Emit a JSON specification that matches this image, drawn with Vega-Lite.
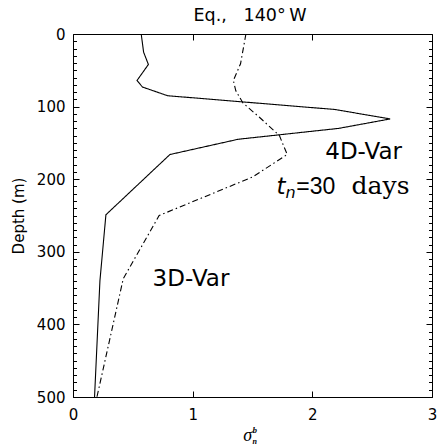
{
  "$schema": "https://vega.github.io/schema/vega-lite/v6.json",
  "width": 359,
  "height": 363,
  "autosize": {"type": "none"},
  "padding": {"left": 73, "top": 34, "right": 6, "bottom": 48},
  "config": {
    "view": {"stroke": "#000", "strokeWidth": 1},
    "axis": {
      "domain": false,
      "grid": false,
      "tickColor": "#000",
      "tickWidth": 1,
      "labelColor": "#000",
      "labelFont": "DejaVu Sans",
      "labelFontSize": 15,
      "labelFlush": false,
      "titleColor": "#000"
    },
    "text": {"font": "DejaVu Sans", "color": "#000"}
  },
  "resolve": {"axis": {"x": "independent", "y": "independent"}},
  "layer": [
    {
      "data": {
        "values": [
          {"run": "4D-Var", "depth": 0, "sigma": 0.57},
          {"run": "4D-Var", "depth": 25, "sigma": 0.59},
          {"run": "4D-Var", "depth": 42, "sigma": 0.63},
          {"run": "4D-Var", "depth": 64, "sigma": 0.535},
          {"run": "4D-Var", "depth": 73, "sigma": 0.58},
          {"run": "4D-Var", "depth": 85, "sigma": 0.79},
          {"run": "4D-Var", "depth": 104, "sigma": 2.19},
          {"run": "4D-Var", "depth": 117, "sigma": 2.65},
          {"run": "4D-Var", "depth": 130, "sigma": 2.22},
          {"run": "4D-Var", "depth": 145, "sigma": 1.38},
          {"run": "4D-Var", "depth": 166, "sigma": 0.81},
          {"run": "4D-Var", "depth": 249, "sigma": 0.275},
          {"run": "4D-Var", "depth": 340, "sigma": 0.225},
          {"run": "4D-Var", "depth": 500, "sigma": 0.18},
          {"run": "3D-Var", "depth": 0, "sigma": 1.445},
          {"run": "3D-Var", "depth": 41, "sigma": 1.4},
          {"run": "3D-Var", "depth": 64, "sigma": 1.34},
          {"run": "3D-Var", "depth": 78, "sigma": 1.36},
          {"run": "3D-Var", "depth": 95, "sigma": 1.42},
          {"run": "3D-Var", "depth": 115, "sigma": 1.56},
          {"run": "3D-Var", "depth": 140, "sigma": 1.725},
          {"run": "3D-Var", "depth": 166, "sigma": 1.79},
          {"run": "3D-Var", "depth": 197, "sigma": 1.5},
          {"run": "3D-Var", "depth": 250, "sigma": 0.72},
          {"run": "3D-Var", "depth": 337, "sigma": 0.42},
          {"run": "3D-Var", "depth": 500, "sigma": 0.2}
        ]
      },
      "mark": {"type": "line", "color": "#000", "strokeWidth": 1.1},
      "encoding": {
        "x": {
          "field": "sigma",
          "type": "quantitative",
          "scale": {"domain": [0, 3], "nice": false},
          "axis": {"orient": "bottom", "values": [0, 1, 2, 3], "tickSize": -6, "labelPadding": 16, "title": null}
        },
        "y": {
          "field": "depth",
          "type": "quantitative",
          "scale": {"domain": [0, 500], "reverse": true, "nice": false},
          "axis": {
            "orient": "left",
            "values": [0, 100, 200, 300, 400, 500],
            "tickSize": -6,
            "labelPadding": 14,
            "title": "Depth (m)",
            "titleFont": "DejaVu Sans",
            "titleFontSize": 15,
            "titleFontWeight": "normal",
            "titlePadding": 10
          }
        },
        "strokeDash": {
          "field": "run",
          "type": "nominal",
          "scale": {"domain": ["4D-Var", "3D-Var"], "range": [[1, 0], [6, 3, 1.5, 3]]},
          "legend": null
        },
        "order": {"field": "depth", "type": "quantitative"}
      }
    },
    {
      "data": {"values": [{}]},
      "mark": {"type": "text", "align": "center", "baseline": "alphabetic", "fontSize": 17.5, "dy": -13},
      "encoding": {
        "x": {"datum": 1.479, "type": "quantitative", "axis": null},
        "y": {"datum": 0, "type": "quantitative", "axis": null},
        "text": {"value": "Eq.,\u00a0\u00a0\u00a0140°\u2009W"}
      }
    },
    {
      "data": {"values": [{}]},
      "mark": {"type": "text", "align": "center", "baseline": "alphabetic", "fontSize": 23},
      "encoding": {
        "x": {"datum": 2.429, "type": "quantitative", "axis": {"orient": "top", "values": [1, 2], "tickSize": -6, "labels": false, "title": null}},
        "y": {"datum": 172, "type": "quantitative", "axis": {"orient": "right", "values": [0, 100, 200, 300, 400, 500], "tickSize": -6, "labels": false, "title": null}},
        "text": {"value": "4D-Var"}
      }
    },
    {
      "data": {"values": [{}]},
      "mark": {"type": "text", "align": "center", "baseline": "alphabetic", "fontSize": 23},
      "encoding": {
        "x": {"datum": 0.986, "type": "quantitative", "axis": null},
        "y": {"datum": 347, "type": "quantitative", "axis": {"orient": "left", "values": [0,10,20,30,40,50,60,70,80,90,100,110,120,130,140,150,160,170,180,190,200,210,220,230,240,250,260,270,280,290,300,310,320,330,340,350,360,370,380,390,400,410,420,430,440,450,460,470,480,490,500], "tickSize": -3.5, "labels": false, "title": null}},
        "text": {"value": "3D-Var"}
      }
    },
    {
      "data": {"values": [{}]},
      "mark": {"type": "text", "align": "left", "baseline": "alphabetic", "fontSize": 23, "fontStyle": "italic"},
      "encoding": {
        "x": {"datum": 1.7, "type": "quantitative", "axis": null},
        "y": {"datum": 221, "type": "quantitative", "axis": {"orient": "right", "values": [0,10,20,30,40,50,60,70,80,90,100,110,120,130,140,150,160,170,180,190,200,210,220,230,240,250,260,270,280,290,300,310,320,330,340,350,360,370,380,390,400,410,420,430,440,450,460,470,480,490,500], "tickSize": -3.5, "labels": false, "title": null}},
        "text": {"value": "t"}
      }
    },
    {
      "data": {"values": [{}]},
      "mark": {"type": "text", "align": "left", "baseline": "alphabetic", "fontSize": 16, "fontStyle": "italic"},
      "encoding": {
        "x": {"datum": 1.775, "type": "quantitative", "axis": null},
        "y": {"datum": 226, "type": "quantitative", "axis": null},
        "text": {"value": "n"}
      }
    },
    {
      "data": {"values": [{}]},
      "mark": {"type": "text", "align": "center", "baseline": "alphabetic", "fontSize": 23, "font": "Liberation Sans"},
      "encoding": {
        "x": {"datum": 2.029, "type": "quantitative", "axis": null},
        "y": {"datum": 221, "type": "quantitative", "axis": null},
        "text": {"value": "=30"}
      }
    },
    {
      "data": {"values": [{}]},
      "mark": {"type": "text", "align": "center", "baseline": "alphabetic", "fontSize": 25, "font": "DejaVu Serif"},
      "encoding": {
        "x": {"datum": 2.57, "type": "quantitative", "axis": null},
        "y": {"datum": 221, "type": "quantitative", "axis": null},
        "text": {"value": "days"}
      }
    },
    {
      "data": {"values": [{}]},
      "mark": {"type": "text", "align": "center", "baseline": "alphabetic", "fontSize": 18, "font": "Liberation Serif", "fontStyle": "italic", "dy": 44},
      "encoding": {
        "x": {"datum": 1.46, "type": "quantitative", "axis": null},
        "y": {"datum": 500, "type": "quantitative", "axis": null},
        "text": {"value": "σ"}
      }
    },
    {
      "data": {"values": [{}]},
      "mark": {"type": "text", "align": "left", "baseline": "alphabetic", "fontSize": 9, "font": "Liberation Serif", "fontStyle": "italic", "fontWeight": "bold", "dy": 36},
      "encoding": {
        "x": {"datum": 1.5, "type": "quantitative", "axis": null},
        "y": {"datum": 500, "type": "quantitative", "axis": null},
        "text": {"value": "b"}
      }
    },
    {
      "data": {"values": [{}]},
      "mark": {"type": "text", "align": "left", "baseline": "alphabetic", "fontSize": 8, "font": "Liberation Serif", "fontStyle": "italic", "fontWeight": "bold", "dy": 47},
      "encoding": {
        "x": {"datum": 1.5, "type": "quantitative", "axis": null},
        "y": {"datum": 500, "type": "quantitative", "axis": null},
        "text": {"value": "n"}
      }
    }
  ]
}
